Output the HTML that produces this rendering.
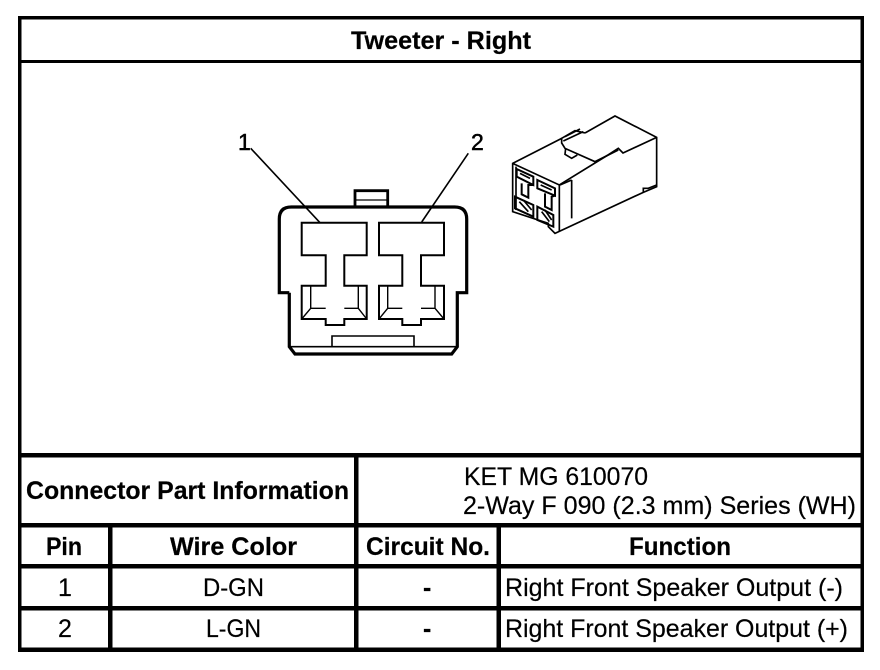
<!DOCTYPE html>
<html><head><meta charset="utf-8"><style>
html,body{margin:0;padding:0;background:#fff;width:880px;height:670px;overflow:hidden}
svg{display:block}
text{font-family:"Liberation Sans",sans-serif;fill:#000;font-size:25px;stroke:#000;stroke-width:.2px}
.b{font-weight:bold}
</style></head><body>
<svg width="880" height="670" viewBox="0 0 880 670" xmlns="http://www.w3.org/2000/svg">
<rect width="880" height="670" fill="#fff"/>
<g fill="#000">
<rect x="18" y="16" width="846" height="3.5"/>
<rect x="18" y="16" width="3.5" height="636"/>
<rect x="860.5" y="16" width="3.5" height="636"/>
<rect x="18" y="647.5" width="846" height="4.5"/>
<rect x="18" y="60" width="846" height="3"/>
<rect x="18" y="453" width="846" height="4.5"/>
<rect x="18" y="523" width="846" height="4.5"/>
<rect x="18" y="564" width="846" height="4.5"/>
<rect x="18" y="606" width="846" height="4.5"/>
<rect x="354" y="453" width="4.5" height="195"/>
<rect x="108" y="523" width="4.5" height="125"/>
<rect x="496.5" y="523" width="4.5" height="125"/>
</g>
<text class="b" x="351" y="49" textLength="180" lengthAdjust="spacingAndGlyphs">Tweeter - Right</text>
<text class="b" x="26" y="499" textLength="323" lengthAdjust="spacingAndGlyphs">Connector Part Information</text>
<text x="464" y="485" textLength="184" lengthAdjust="spacingAndGlyphs">KET MG 610070</text>
<text x="463" y="514" textLength="393" lengthAdjust="spacingAndGlyphs">2-Way F 090 (2.3 mm) Series (WH)</text>
<text class="b" x="46" y="555" textLength="36" lengthAdjust="spacingAndGlyphs">Pin</text>
<text class="b" x="170" y="555" textLength="127" lengthAdjust="spacingAndGlyphs">Wire Color</text>
<text class="b" x="366" y="555" textLength="124" lengthAdjust="spacingAndGlyphs">Circuit No.</text>
<text class="b" x="629" y="555" textLength="102" lengthAdjust="spacingAndGlyphs">Function</text>
<text x="58" y="596">1</text>
<text x="203" y="596" textLength="61" lengthAdjust="spacingAndGlyphs">D-GN</text>
<text class="b" x="423" y="596">-</text>
<text x="505" y="596" textLength="338" lengthAdjust="spacingAndGlyphs">Right Front Speaker Output (-)</text>
<text x="58" y="637">2</text>
<text x="206" y="637" textLength="55" lengthAdjust="spacingAndGlyphs">L-GN</text>
<text class="b" x="423" y="637">-</text>
<text x="505" y="637" textLength="343" lengthAdjust="spacingAndGlyphs">Right Front Speaker Output (+)</text>
<text x="238" y="150" style="font-size:23px;stroke-width:.5px">1</text>
<text x="471" y="150" style="font-size:23px;stroke-width:.5px">2</text>

<g fill="none" stroke="#000" stroke-linejoin="miter">
<path stroke-width="1.6" d="M250.7 148.3L320 222.7M468.3 153.3L421.7 222"/>
<path stroke-width="2.8" fill="#fff" d="M355 207V190.7H387.7V207"/>
<path stroke-width="1.3" d="M355 200H387.7"/>
<path stroke-width="3.2" d="M289.3 292.7H279.3V219Q279.3 207 291.3 207H454.7Q466.7 207 466.7 219V292.7H457.3V346.7L451.7 354H295L289.3 346.7V292.7"/>
<path stroke-width="1.6" d="M289.3 346.7H457.3M332 346.7V336H414V346.7"/>
<path stroke-width="2" d="M301.7 222.7H366.7V255.3H344.3V285.7H366.7V319H344.3V325H325.7V319H301.7V285.7H325.7V255.3H301.7Z"/>
<path stroke-width="2" d="M379 222.7H444V255.3H421V285.7H444V319H421V325H402.3V319H379V285.7H402.3V255.3H379Z"/>
<path stroke-width="1.4" d="M310.7 285.7V308.3H325.7M310.7 308.3L301.7 319M358.3 285.7V308.3H344.3M358.3 308.3L366.7 319"/>
<path stroke-width="1.4" d="M387.7 285.7V308.3H402.3M387.7 308.3L379 319M435 285.7V308.3H421M435 308.3L444 319"/>
</g>

<g transform="translate(500 105) scale(.3333)" fill="none" stroke="#000" stroke-width="5" stroke-linejoin="miter">
<path d="M185 100L38 175V320L145 355V365L165 385L430 262L470 245V97L345 33L255 84"/>
<path d="M38 175L178 240L324 150L355 130L369 144L470 97M178 240V380M215 225V340"/>
<path d="M255 84L225 77L185 100L185 114L195 130L285 170L355 135M195 95L240 72M190 108L250 80"/>
<path d="M197 130L195 148L215 160L232 150"/>
<path d="M430 262V250L445 250L470 240"/>
<path d="M48 185V315M215 225L180 240"/>
<path stroke-width="6" d="M50 192L100 215V240L50 215ZM112 225L165 250V272L112 250Z"/>
<path d="M60 205L90 220M122 240L155 255"/>
<path stroke-width="6" d="M65 235V268L85 278V240L100 240M135 265V305L155 315V275L165 272"/>
<path stroke-width="6" d="M45 275L100 300V335L45 310ZM112 305L160 330V365L112 345Z"/>
<path d="M58 290L85 320M70 285L95 315M125 320L148 350M135 315L155 345"/>
</g>
</svg>
</body></html>
